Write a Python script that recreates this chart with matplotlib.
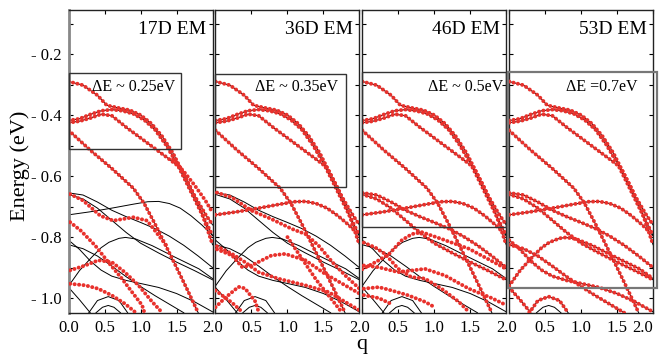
import matplotlib
matplotlib.use("Agg")
import matplotlib.pyplot as plt
from matplotlib.patches import Rectangle
from matplotlib.ticker import MultipleLocator, FuncFormatter

plt.rcParams['font.family'] = ['Liberation Serif', 'DejaVu Serif']

RED = '#e8312c'

# exact valence bands (q, energy in eV)
b1_q = [0.0, 0.2, 0.4, 0.53, 0.7, 0.85, 1.0, 1.15, 1.3, 1.45, 1.6, 1.75, 1.9, 2.0]
b1_e = [-0.29, -0.302, -0.335, -0.368, -0.377, -0.384, -0.40, -0.428, -0.47, -0.525, -0.595, -0.665, -0.725, -0.76]
b2_q = [0.0, 0.15, 0.3, 0.45, 0.6, 0.75, 0.9, 1.05, 1.2, 1.35, 1.5, 1.65, 1.8, 2.0]
b2_e = [-0.418, -0.412, -0.398, -0.386, -0.382, -0.386, -0.396, -0.416, -0.448, -0.497, -0.557, -0.628, -0.70, -0.795]
b3_q = [0.0, 0.15, 0.3, 0.45, 0.6, 0.8, 1.0, 1.2, 1.4, 1.55, 1.7, 1.85, 2.0]
b3_e = [-0.425, -0.42, -0.41, -0.397, -0.402, -0.44, -0.475, -0.51, -0.545, -0.572, -0.64, -0.72, -0.825]
b4_q = [0.0, 0.3, 0.6, 0.9, 1.05, 1.2, 1.35, 1.5, 1.65, 1.8]
b4_e = [-0.45, -0.515, -0.575, -0.64, -0.69, -0.757, -0.828, -0.9, -0.973, -1.048]

m1_q = [0.0, 0.2, 0.4, 0.6, 0.8, 1.0, 1.2, 1.4, 1.6, 1.8, 2.0]
m1_e = [-0.655, -0.662, -0.685, -0.712, -0.733, -0.752, -0.772, -0.797, -0.827, -0.862, -0.90]
m2_q = [0.0, 0.3, 0.6, 0.9, 1.1, 1.25, 1.4, 1.55, 1.7, 1.85, 2.0]
m2_e = [-0.727, -0.717, -0.705, -0.692, -0.684, -0.683, -0.69, -0.705, -0.73, -0.76, -0.795]
m3_q = [0.0, 0.15, 0.32, 0.45, 0.56, 0.7, 0.79, 0.93, 1.16, 1.48, 1.81, 2.0]
m3_e = [-0.96, -0.91, -0.866, -0.835, -0.817, -0.804, -0.801, -0.806, -0.828, -0.866, -0.904, -0.936]
m4_q = [0.0, 0.15, 0.3, 0.45, 0.6, 0.8, 1.0, 1.25, 1.5, 1.75, 2.0]
m4_e = [-0.81, -0.84, -0.878, -0.908, -0.928, -0.942, -0.952, -0.965, -0.985, -1.012, -1.045]
m5_q = [0.0, 0.2, 0.4, 0.6, 0.8, 1.0, 1.2, 1.4, 1.6]
m5_e = [-0.825, -0.838, -0.862, -0.895, -0.93, -0.962, -0.992, -1.02, -1.048]
m6_q = [0.0, 0.2, 0.4, 0.6, 0.8, 1.0, 1.25, 1.5, 1.75, 2.0]
m6_e = [-0.66, -0.675, -0.705, -0.745, -0.785, -0.82, -0.852, -0.882, -0.91, -0.94]
n1_q = [0.0, 0.15, 0.3]
n1_e = [-0.965, -1.005, -1.048]
n2_q = [0.28, 0.4, 0.55, 0.7, 0.82]
n2_e = [-1.048, -1.008, -0.995, -1.008, -1.048]
n3_q = [0.38, 0.47, 0.55, 0.63, 0.72]
n3_e = [-1.048, -1.03, -1.024, -1.03, -1.048]

# extra bands that only show up in the smaller expansions
s1a_q = [0.02, 0.2, 0.44, 0.62, 0.9, 1.09, 1.18, 1.36]
s1a_e = [-0.659, -0.68, -0.73, -0.746, -0.735, -0.746, -0.773, -0.828]
s1b_q = [0.02, 0.17, 0.37, 0.55, 0.74, 0.88, 1.02, 1.05]
s1b_e = [-0.751, -0.779, -0.828, -0.882, -0.936, -0.98, -1.023, -1.045]
s1c_q = [0.02, 0.23, 0.41, 0.6, 0.78, 0.97, 1.16, 1.29]
s1c_e = [-0.909, -0.893, -0.876, -0.882, -0.915, -0.958, -1.012, -1.045]
s1d_q = [0.02, 0.23, 0.41, 0.6, 0.78, 0.92]
s1d_e = [-0.953, -0.958, -0.969, -0.991, -1.018, -1.045]
s1e_q = [1.45, 1.6, 1.75, 1.9, 2.0]
s1e_e = [-0.545, -0.585, -0.63, -0.68, -0.72]

s2a_q = [0.02, 0.23, 0.5, 0.78, 1.06, 1.25, 1.43, 1.62, 1.8, 2.0]
s2a_e = [-0.654, -0.67, -0.713, -0.741, -0.773, -0.79, -0.827, -0.881, -0.925, -0.969]
s2b_q = [0.02, 0.23, 0.37, 0.5, 0.78, 0.97, 1.25, 1.52, 2.0]
s2b_e = [-0.84, -0.86, -0.898, -0.893, -0.86, -0.855, -0.876, -0.92, -0.985]
s2c_q = [0.02, 0.23, 0.41, 0.6, 0.87, 1.25, 1.57, 1.8, 2.0]
s2c_e = [-0.83, -0.855, -0.882, -0.915, -0.936, -0.958, -0.98, -1.012, -1.04]
s2d_q = [0.0, 0.13, 0.32, 0.41, 0.55, 0.6]
s2d_e = [-1.03, -1.0, -0.963, -0.968, -1.01, -1.045]
s2e_q = [0.0, 0.23, 0.37]
s2e_e = [-0.975, -1.015, -1.045]
s2f_q = [1.0, 1.2, 1.4, 1.6, 1.75]
s2f_e = [-0.80, -0.87, -0.94, -1.0, -1.045]

s3a_q = [0.0, 0.2, 0.37, 0.55, 0.69, 0.83, 1.1, 1.48, 2.0]
s3a_e = [-0.905, -0.88, -0.856, -0.81, -0.79, -0.784, -0.806, -0.838, -0.904]
s3b_q = [0.02, 0.18, 0.32, 0.5, 0.68, 0.87, 1.1, 1.34, 1.48]
s3b_e = [-0.818, -0.834, -0.856, -0.904, -0.931, -0.936, -0.969, -1.012, -1.045]
s3c_q = [0.02, 0.23, 0.5, 0.87, 1.15, 1.48, 1.8, 2.0]
s3c_e = [-0.893, -0.899, -0.915, -0.904, -0.926, -0.969, -1.0, -1.023]
s3d_q = [0.02, 0.23, 0.41, 0.64, 0.87, 1.0]
s3d_e = [-0.969, -0.964, -0.975, -0.991, -1.012, -1.029]
s3e_q = [0.02, 0.23, 0.41]
s3e_e = [-0.99, -1.0, -1.02]

exact = [(b1_q, b1_e), (b2_q, b2_e), (b3_q, b3_e), (b4_q, b4_e),
         (m1_q, m1_e), (m2_q, m2_e), (m3_q, m3_e), (m4_q, m4_e),
         (m5_q, m5_e), (m6_q, m6_e), (n1_q, n1_e), (n2_q, n2_e), (n3_q, n3_e)]
top4 = exact[:4]

em_bands = [
    top4 + [(s1a_q, s1a_e), (s1b_q, s1b_e), (s1c_q, s1c_e), (s1d_q, s1d_e), (s1e_q, s1e_e)],
    top4 + [(m2_q, m2_e), (s2a_q, s2a_e), (s2b_q, s2b_e), (s2c_q, s2c_e),
            (s2d_q, s2d_e), (s2e_q, s2e_e), (s2f_q, s2f_e)],
    top4 + [(m1_q, m1_e), (m2_q, m2_e), (m6_q, m6_e), (s3a_q, s3a_e), (s3b_q, s3b_e),
            (s3c_q, s3c_e), (s3d_q, s3d_e), (s3e_q, s3e_e)],
    top4 + [(m1_q, m1_e), (m2_q, m2_e), (m3_q, m3_e), (m4_q, m4_e), (m5_q, m5_e),
            (m6_q, m6_e), (n1_q, n1_e), (n2_q, n2_e)],
]

titles = ['17D EM', '36D EM', '46D EM', '53D EM']
win_labels = ['\u0394E ~ 0.25eV', '\u0394E ~ 0.35eV', '\u0394E ~ 0.5eV', '\u0394E =0.7eV']
win_label_x = [1.48, 1.70, 1.95, 1.79]
win_left = [0.0, 0.0, 0.0, -0.02]
win_right = [1.56, 1.81, 2.0, 2.05]
win_top = [-0.261, -0.265, -0.26, -0.26]
win_bottom = [-0.51, -0.635, -0.768, -0.967]

fig, axes = plt.subplots(1, 4, sharey=True, figsize=(6.6, 3.62), dpi=100)
fig.subplots_adjust(left=0.104, right=0.9895, top=0.972, bottom=0.136, wspace=0.02)

for i, ax in enumerate(axes):
    for q, e in exact:
        ax.plot(q, e, color='black', lw=0.7, zorder=2)
    for q, e in em_bands[i]:
        ax.plot(q, e, color=RED, lw=2.8, ls=(0, (0.05, 1.1)),
                dash_capstyle='round', zorder=3)

    box = Rectangle((win_left[i], win_bottom[i]), win_right[i] - win_left[i],
                    win_top[i] - win_bottom[i], fill=False,
                    ec='#777777' if i == 3 else '#333333',
                    lw=1.6 if i == 3 else 1.0, clip_on=False, zorder=4)
    ax.add_patch(box)
    ax.text(0.955, 0.935, titles[i], transform=ax.transAxes, ha='right',
            va='center', fontsize=14)
    ax.text(win_label_x[i], -0.307, win_labels[i], ha='right', va='center',
            fontsize=11.5)

    ax.set_xlim(0, 2)
    ax.set_ylim(-1.048, -0.056)
    ax.xaxis.set_major_locator(MultipleLocator(0.5))
    ax.yaxis.set_major_locator(MultipleLocator(0.2))
    ax.yaxis.set_minor_locator(MultipleLocator(0.1))
    ax.tick_params(which='both', direction='in', top=True, right=True,
                   length=3, width=0.8, labelsize=12, pad=5)
    if i > 0:
        ax.tick_params(labelleft=False)
        ax.xaxis.set_major_formatter(
            FuncFormatter(lambda v, p: '' if abs(v) < 1e-6 else '%.1f' % v))
    for sp in ax.spines.values():
        sp.set_linewidth(1.0)
        sp.set_color('#222222')

axes[0].yaxis.set_major_formatter(FuncFormatter(lambda v, p: '- %.1f' % abs(v)))
axes[0].spines['left'].set_color('#888888')
axes[0].spines['left'].set_linewidth(2.0)

fig.text(362 / 660, 1 - 345 / 362, 'q', ha='center', va='center', fontsize=16)
fig.text(20 / 660, 1 - 166 / 362, 'Energy (eV)', rotation=90, ha='center',
         va='center', fontsize=16)

# keep the last "2.0" inside the figure edge
fig.canvas.draw()
for tick in axes[3].xaxis.get_major_ticks():
    if abs(tick.get_loc() - 2.0) < 1e-6:
        tick.label1.set_horizontalalignment('right')
        tick.label1.set_x(2.0)

fig.savefig('out.png', dpi=100)
